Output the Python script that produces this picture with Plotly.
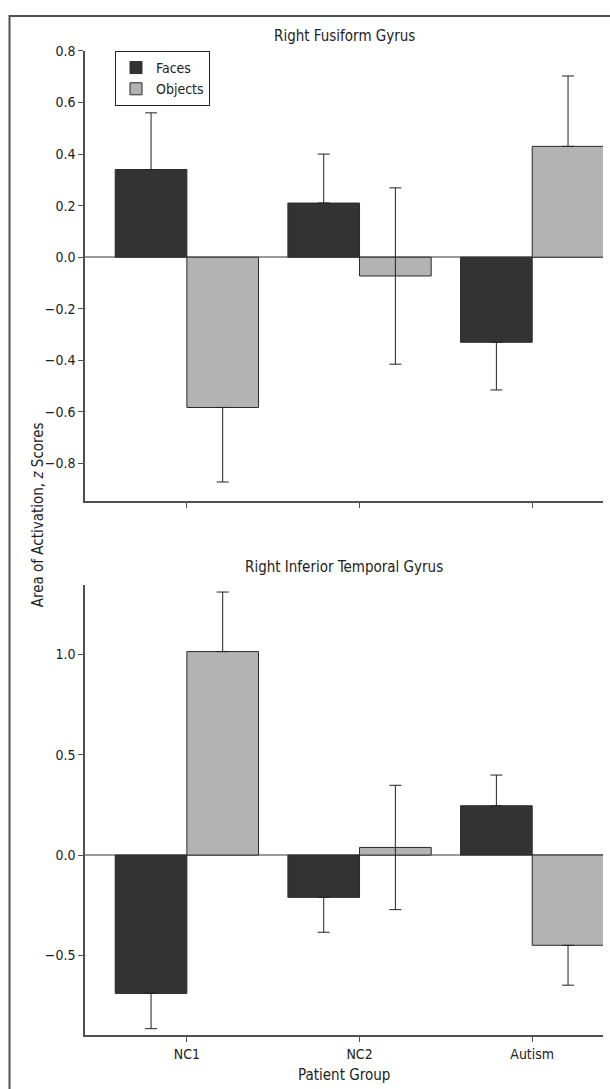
import plotly.graph_objects as go

groups = ["NC1", "NC2", "Autism"]

# Right Fusiform Gyrus
fus_faces = [0.34, 0.21, -0.33]
fus_faces_err = [0.22, 0.19, 0.185]
fus_objects = [-0.583, -0.073, 0.43]
fus_objects_err = [0.289, 0.342, 0.273]

# Right Inferior Temporal Gyrus
itg_faces = [-0.69, -0.211, 0.246]
itg_faces_err = [0.176, 0.174, 0.153]
itg_objects = [1.015, 0.038, -0.45]
itg_objects_err = [0.297, 0.31, 0.199]

FACE_COLOR = "#333333"
OBJ_COLOR = "#b3b3b3"
FONT = "DejaVu Sans Condensed, Liberation Sans Narrow, Arial Narrow, sans-serif"


def err_parts(vals, errs):
    plus, minus = [], []
    for v, e in zip(vals, errs):
        if e > abs(v):
            plus.append(e)
            minus.append(e)
        elif v >= 0:
            plus.append(e)
            minus.append(0)
        else:
            plus.append(0)
            minus.append(e)
    return plus, minus


def bar(name, vals, errs, color, xa, ya, show):
    p, m = err_parts(vals, errs)
    return go.Bar(
        x=groups, y=vals, name=name, xaxis=xa, yaxis=ya,
        marker=dict(color=color, line=dict(color="#2a2a2a", width=1)),
        error_y=dict(type="data", symmetric=False, array=p, arrayminus=m,
                     color="#222222", thickness=1, width=6),
        showlegend=show, legendgroup=name,
    )


fig = go.Figure()
fig.add_trace(bar("Faces", fus_faces, fus_faces_err, FACE_COLOR, "x", "y", True))
fig.add_trace(bar("Objects", fus_objects, fus_objects_err, OBJ_COLOR, "x", "y", True))
fig.add_trace(bar("Faces", itg_faces, itg_faces_err, FACE_COLOR, "x2", "y2", False))
fig.add_trace(bar("Objects", itg_objects, itg_objects_err, OBJ_COLOR, "x2", "y2", False))

W, H = 610, 1089
x0, x1 = 85 / W, 603 / W
top_dom = [1 - 496.7 / H, 1 - 43.3 / H]
bot_dom = [1 - 1034.7 / H, 1 - 581.7 / H]

axis_common = dict(showline=True, linecolor="#505050", linewidth=1.5,
                   ticks="outside", ticklen=5, tickcolor="#505050", tickwidth=1,
                   showgrid=False, tickfont=dict(size=14, color="#222"))

fig.update_layout(
    width=W, height=H,
    margin=dict(l=0, r=0, t=0, b=0),
    paper_bgcolor="white", plot_bgcolor="white",
    font=dict(family=FONT, size=15, color="#222"),
    barmode="group", bargap=0.17, bargroupgap=0,
    xaxis=dict(domain=[x0, x1], anchor="y", range=[-0.59, 2.41],
               showticklabels=False, zeroline=False, **axis_common),
    yaxis=dict(domain=top_dom, anchor="x", range=[-0.946, 0.8],
               tickvals=[-0.8, -0.6, -0.4, -0.2, 0.0, 0.2, 0.4, 0.6, 0.8],
               tickformat=".1f", zeroline=True, zerolinecolor="#9a9a9a",
               zerolinewidth=1.5, **axis_common),
    xaxis2=dict(domain=[x0, x1], anchor="y2", range=[-0.59, 2.41],
                zeroline=False, **axis_common),
    yaxis2=dict(domain=bot_dom, anchor="x2", range=[-0.898, 1.345],
                tickvals=[-0.5, 0.0, 0.5, 1.0],
                tickformat=".1f", zeroline=True, zerolinecolor="#9a9a9a",
                zerolinewidth=1.5, **axis_common),
    legend=dict(x=115 / W, y=1 - 43.3 / H, xanchor="left", yanchor="top",
                bgcolor="white", bordercolor="#222", borderwidth=1,
                font=dict(size=14), itemwidth=30, tracegroupgap=0,
                traceorder="normal"),
    annotations=[
        dict(text="Right Fusiform Gyrus", xref="paper", yref="paper",
             x=(x0 + x1) / 2, y=1 - 28 / H, showarrow=False,
             xanchor="center", yanchor="middle", font=dict(size=15)),
        dict(text="Right Inferior Temporal Gyrus", xref="paper", yref="paper",
             x=(x0 + x1) / 2, y=1 - 563 / H, showarrow=False,
             xanchor="center", yanchor="middle", font=dict(size=15)),
        dict(text="Area of Activation, <i>z</i> Scores", xref="paper", yref="paper",
             x=38 / W, y=1 - 511 / H, showarrow=False, textangle=-90,
             xanchor="center", yanchor="middle", font=dict(size=15)),
        dict(text="Patient Group", xref="paper", yref="paper",
             x=(x0 + x1) / 2, y=1 - 1075 / H, showarrow=False,
             xanchor="center", yanchor="middle", font=dict(size=15)),
    ],
    shapes=[
        dict(type="path", xref="paper", yref="paper",
             path=f"M {9.5 / W},-0.05 L {9.5 / W},{1 - 8 / H} L 1.05,{1 - 8 / H}",
             line=dict(color="#505050", width=2)),
    ],
)

fig.write_html(
    "out.html",
    config={"displayModeBar": False},
    post_script="document.body.style.margin='0';document.body.style.padding='0';",
)
